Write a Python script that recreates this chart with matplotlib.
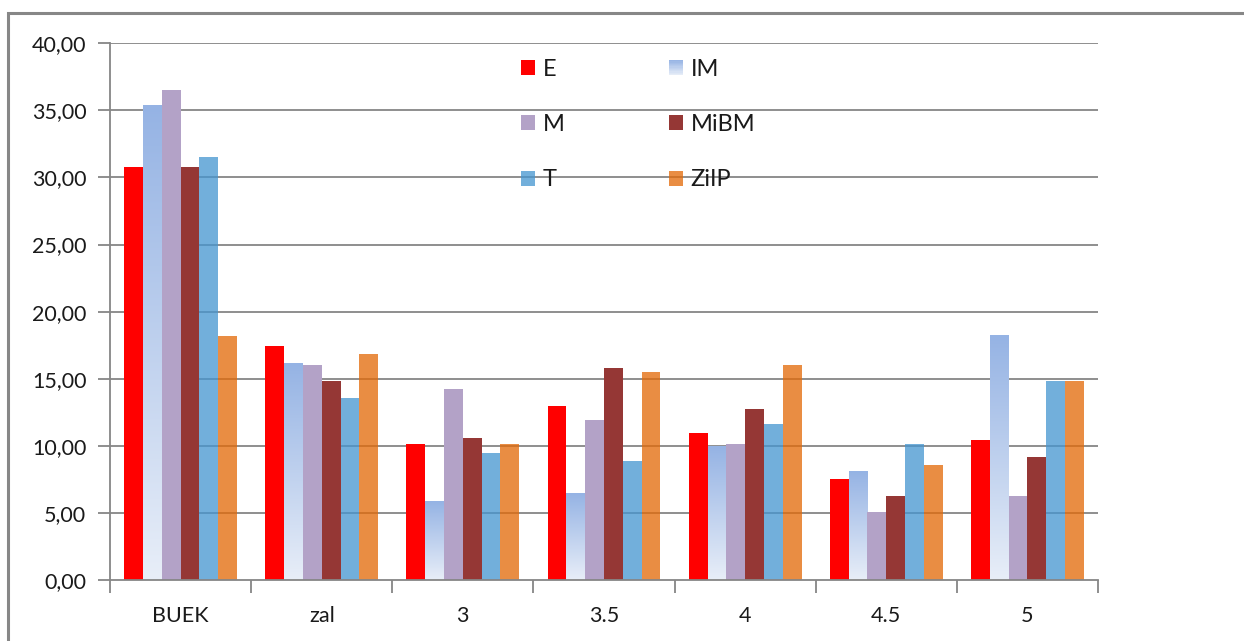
import numpy as np
import matplotlib
matplotlib.use("Agg")
import matplotlib.pyplot as plt
from matplotlib.patches import Rectangle
from matplotlib.colors import LinearSegmentedColormap, to_rgba
from matplotlib.legend_handler import HandlerBase

plt.rcParams['font.family'] = ['Lato', 'DejaVu Sans']

categories = ["BUEK", "zal", "3", "3.5", "4", "4.5", "5"]
series_names = ["E", "IM", "M", "MiBM", "T", "ZiIP"]

E    = [30.76, 17.43, 10.10, 12.94, 10.95, 7.55, 10.40]
IM   = [35.38, 16.16, 5.83, 6.41, 9.96, 8.10, 18.25]
M    = [36.55, 16.01, 14.20, 11.92, 10.10, 5.07, 6.23]
MiBM = [30.76, 14.85, 10.58, 15.79, 12.76, 6.23, 9.16]
T    = [31.50, 13.60, 9.43, 8.86, 11.60, 10.10, 14.82]
ZiIP = [18.17, 16.83, 10.10, 15.49, 15.99, 8.59, 14.82]
values = [E, IM, M, MiBM, T, ZiIP]

yticks = [0, 5, 10, 15, 20, 25, 30, 35, 40]
ytick_labels = ["0,00", "5,00", "10,00", "15,00", "20,00", "25,00", "30,00", "35,00", "40,00"]

# (color, alpha) per series; IM is drawn with a vertical gradient
styles = {
    "E": ("#FF0000", 1.0),
    "IM": ("#B4C8EC", 1.0),
    "M": ("#B3A2C7", 1.0),
    "MiBM": ("#953735", 1.0),
    "T": ("#4696D0", 0.76),
    "ZiIP": ("#E36A08", 0.76),
}
im_top, im_bottom = "#95B3E4", "#E8EEF8"
im_cmap = LinearSegmentedColormap.from_list("im_grad", [im_bottom, im_top])

W, H = 1244, 641
fig = plt.figure(figsize=(W / 100, H / 100), dpi=100)

# outer chart frame
frame = Rectangle((8 / W, -0.1), 1.2, (H - 13) / H + 0.1, transform=fig.transFigure,
                  fill=False, edgecolor="#878787", linewidth=2.2, zorder=0)
fig.patches.append(frame)

ax = fig.add_axes([110 / W, 1 - 580 / H, (1098 - 110) / W, (580 - 43.3) / H])
ax.set_xlim(-0.5, len(categories) - 0.5)
ax.set_ylim(0, 40)

grid_color = "#868686"
for y in yticks[1:]:
    ax.axhline(y, color=grid_color, linewidth=1.3, zorder=1)

n = len(series_names)
group = 0.8
bw = group / n
x = np.arange(len(categories))
for i, (name, vals) in enumerate(zip(series_names, values)):
    offs = -group / 2 + bw * (i + 0.5)
    color, alpha = styles[name]
    if name == "IM":
        bars = ax.bar(x + offs, vals, bw, color="none", edgecolor="none", zorder=2)
        grad = np.linspace(0, 1, 256).reshape(-1, 1)
        for b in bars:
            x0, y0 = b.get_x(), b.get_y()
            w, h = b.get_width(), b.get_height()
            ax.imshow(grad, cmap=im_cmap, origin="lower", aspect="auto",
                      extent=(x0, x0 + w, y0, y0 + h), zorder=2, interpolation="bilinear")
    else:
        ax.bar(x + offs, vals, bw, color=color, alpha=alpha, edgecolor="none", zorder=2)
ax.set_xlim(-0.5, len(categories) - 0.5)
ax.set_ylim(0, 40)

for s in ["top", "right"]:
    ax.spines[s].set_visible(False)
for s in ["left", "bottom"]:
    ax.spines[s].set_color(grid_color)
    ax.spines[s].set_linewidth(1.3)
    ax.spines[s].set_zorder(3)

ax.set_yticks(yticks)
ax.set_yticklabels(ytick_labels)
ax.set_xticks(x)
ax.set_xticklabels(categories)
ax.set_xticks(np.arange(len(categories) + 1) - 0.5, minor=True)
ax.tick_params(axis="x", which="major", length=0, pad=19, labelsize=15.5, labelcolor="#1a1a1a")
ax.tick_params(axis="x", which="minor", length=9, width=1.3, color=grid_color, direction="out")
ax.tick_params(axis="y", length=9, width=1.3, color=grid_color, direction="out", pad=8,
               labelsize=15.5, labelcolor="#1a1a1a")


class GradientHandler(HandlerBase):
    def create_artists(self, legend, orig_handle, xdescent, ydescent, width, height,
                       fontsize, trans):
        arts = []
        steps = 12
        for k in range(steps):
            c = im_cmap(1 - (k + 0.5) / steps)
            r = Rectangle((-xdescent, -ydescent + height * (1 - (k + 1) / steps)),
                          width, height / steps + 0.01, facecolor=c, edgecolor="none",
                          transform=trans)
            arts.append(r)
        return arts


handles = []
handler_map = {}
for name in series_names:
    color, alpha = styles[name]
    r = Rectangle((0, 0), 1, 1, facecolor=to_rgba(color, alpha), edgecolor="none")
    handles.append(r)
    if name == "IM":
        handler_map[r] = GradientHandler()

# order row-wise: E IM / M MiBM / T ZiIP in two columns
order = [0, 2, 4, 1, 3, 5]
leg = ax.legend([handles[i] for i in order], [series_names[i] for i in order],
                handler_map=handler_map, ncol=2, frameon=False,
                loc="upper left", bbox_to_anchor=((521 - 110) / (1098 - 110), 1 - (59 - 43.3) / (580 - 43.3)),
                fontsize=17, handlelength=0.6, handleheight=0.6, handletextpad=0.33,
                labelspacing=1.45, columnspacing=4.4, borderpad=0, borderaxespad=0)
for t in leg.get_texts():
    t.set_color("#1a1a1a")

fig.savefig("out.png", dpi=100)
